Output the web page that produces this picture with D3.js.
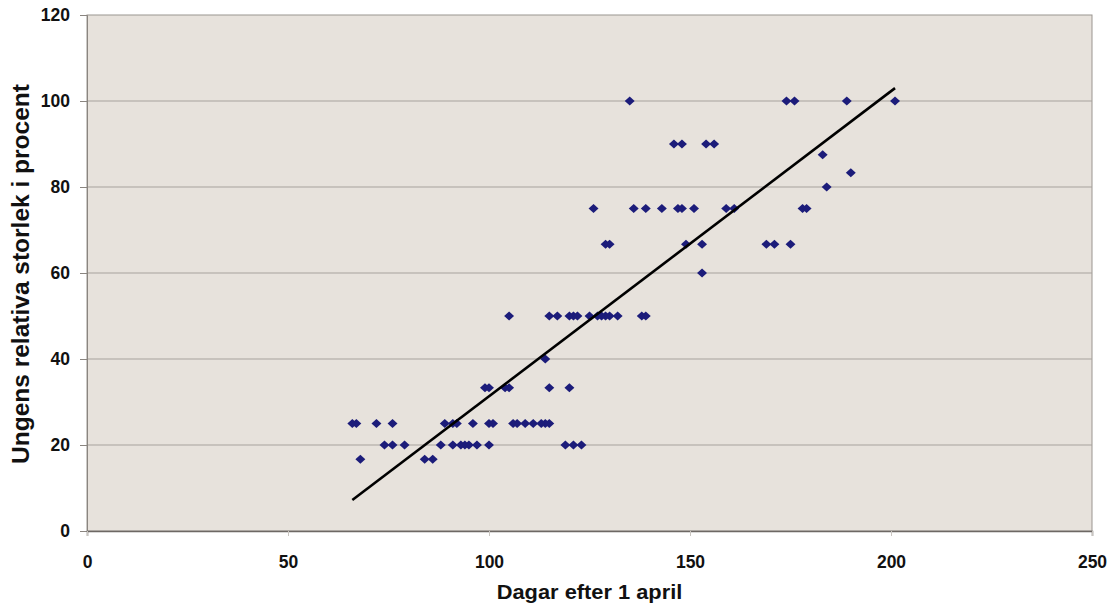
<!DOCTYPE html>
<html><head><meta charset="utf-8">
<script src="https://cdn.jsdelivr.net/npm/d3@7"></script>
<style>body{margin:0;background:#fff}svg{display:block}text{font-family:"Liberation Sans",Arial,sans-serif;font-weight:bold;fill:#111}</style>
</head><body><svg id="c" width="1120" height="609"></svg>
<script>
// Data: days after 1 April (x) and relative size in percent (y)
const days = [
 66,67,72,76,89,91,92,96,100,101,106,107,109,111,113,114,115,
 74,76,79,88,91,93,94,95,97,100,119,121,123,
 68,84,86,
 99,100,104,105,115,120,
 114,
 105,115,117,120,121,122,125,127,128,129,130,132,138,139,
 153,
 129,130,149,153,169,171,175,
 126,136,139,143,147,148,151,159,161,178,179,
 184,190,183,
 146,148,154,156,
 135,174,176,189,201
];
const sizes = [
 25,25,25,25,25,25,25,25,25,25,25,25,25,25,25,25,25,
 20,20,20,20,20,20,20,20,20,20,20,20,20,
 16.7,16.7,16.7,
 33.3,33.3,33.3,33.3,33.3,33.3,
 40,
 50,50,50,50,50,50,50,50,50,50,50,50,50,50,
 60,
 66.7,66.7,66.7,66.7,66.7,66.7,66.7,
 75,75,75,75,75,75,75,75,75,75,75,
 80,83.3,87.5,
 90,90,90,90,
 100,100,100,100,100
];
const trendX = [66, 201];
const trendY = [7.2, 103];
const xTicks = [0,50,100,150,200,250];
const yTicks = [0,20,40,60,80,100,120];
const xTitle = "Dagar efter 1 april";
const yTitle = "Ungens relativa storlek i procent";

const svg = d3.select("#c");
const L=87, R=1092, T=15, B=531;
const x = d3.scaleLinear().domain([0,250]).range([L,R]);
const y = d3.scaleLinear().domain([0,120]).range([B,T]);
const FONT = "'Liberation Sans',Arial,sans-serif";

svg.append("rect").attr("x",L).attr("y",T).attr("width",R-L).attr("height",B-T)
  .attr("fill","#e7e2dc").attr("stroke","#9a9590").attr("stroke-width",1);

svg.append("g").selectAll("line").data(yTicks.filter(v=>v>0&&v<120)).join("line")
  .attr("x1",L).attr("x2",R).attr("y1",d=>y(d)).attr("y2",d=>y(d))
  .attr("stroke","#a7a29d").attr("stroke-width",1);

const yAxis = svg.append("g").attr("transform",`translate(${L},0)`)
  .call(d3.axisLeft(y).tickValues(yTicks).tickSize(7).tickPadding(10).tickFormat(d3.format("d")));
yAxis.attr("font-size",null).attr("font-family",null);
yAxis.select(".domain").attr("stroke","#8a8580");
yAxis.selectAll(".tick line").attr("stroke","#8a8580");
yAxis.selectAll("text").style("font-size","17.5px").style("font-family",FONT).style("font-weight","bold").attr("fill","#111");

const xAxis = svg.append("g").attr("transform",`translate(0,${B})`)
  .call(d3.axisBottom(x).tickValues(xTicks).tickSize(5).tickPadding(20).tickFormat(d3.format("d")));
xAxis.attr("font-size",null).attr("font-family",null);
xAxis.select(".domain").attr("stroke","#6d6864").attr("stroke-width",1.5);
xAxis.selectAll(".tick line").attr("stroke","#c9c5c0");
xAxis.selectAll("text").style("font-size","17.5px").style("font-family",FONT).style("font-weight","bold").attr("fill","#111");

const pts = days.map((d,i)=>({d, s:sizes[i]}));
const diamond = d3.symbol().type(d3.symbolDiamond2).size(52);
svg.append("g").selectAll("path").data(pts).join("path")
  .attr("d",diamond)
  .attr("transform",p=>`translate(${x(p.d)},${y(p.s)}) scale(1.1,1)`)
  .attr("fill","#1c1c7a");

svg.append("line")
  .attr("x1",x(trendX[0])).attr("y1",y(trendY[0]))
  .attr("x2",x(trendX[1])).attr("y2",y(trendY[1]))
  .attr("stroke","#000").attr("stroke-width",2.6);

svg.append("text").attr("transform",`translate(${(L+R)/2},599) scale(1.12,1)`).attr("text-anchor","middle")
  .style("font-size","19.5px").text(xTitle);
svg.append("text").attr("transform",`translate(29,274) rotate(-90)`)
  .attr("text-anchor","middle").style("font-size","24.5px").text(yTitle);
</script></body></html>
